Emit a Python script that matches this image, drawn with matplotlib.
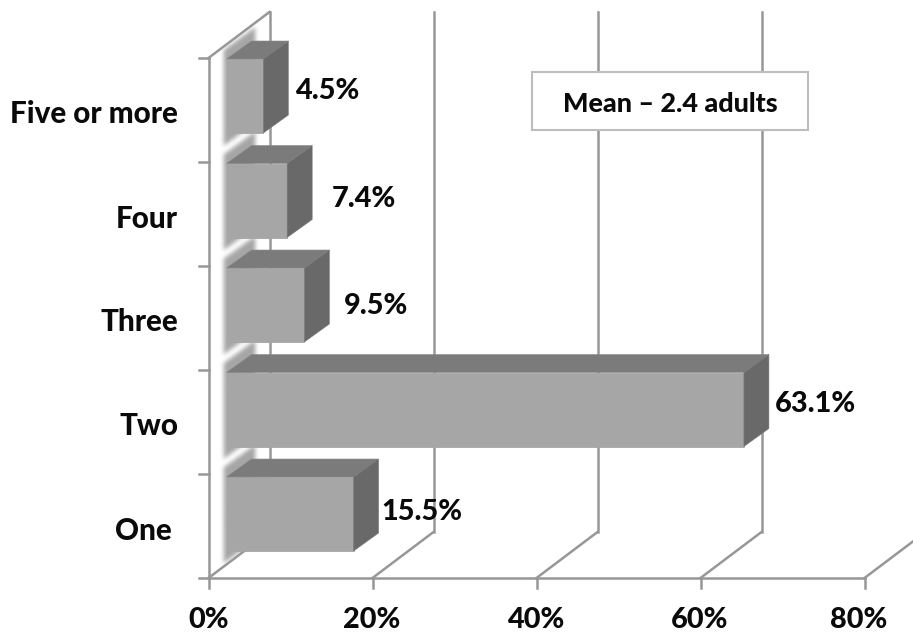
import matplotlib
matplotlib.use("Agg")
import matplotlib.pyplot as plt
from matplotlib.patches import Polygon
import numpy as np

plt.rcParams["font.family"] = ["Lato", "DejaVu Sans"]

CATEGORIES = ["One", "Two", "Three", "Four", "Five or more"]
VALUES = [15.5, 63.1, 9.5, 7.4, 4.5]
X_TICKS = [0, 20, 40, 60, 80]

W, H = 913, 635
PX_PER_PCT = 8.2    # horizontal pixels per percentage point
PX_PER_CAT = 104.0  # vertical pixels per category slot
ORIGIN = (208.5, 578)

# Depth of the box and of each bar, in data units
DEPTH_X, DEPTH_Y = 61 / PX_PER_PCT, 46 / PX_PER_CAT
BAR_DX, BAR_DY = 25 / PX_PER_PCT, 18 / PX_PER_CAT
FRONT_X, FRONT_Y = 18 / PX_PER_PCT, 13 / PX_PER_CAT
BAR_H = 74 / PX_PER_CAT
BAR_PITCH = 104.5 / PX_PER_CAT

GRID = "#979797"
FACE, TOP, SIDE = "#a6a6a6", "#7b7b7b", "#696969"
LW = 1.8


def fig_xy(px, py):
    return px / W, 1 - py / H


def box_blur(a, size, passes=2):
    kernel = np.ones(size) / size
    for _ in range(passes):
        a = np.apply_along_axis(lambda r: np.convolve(r, kernel, mode="same"), 0, a)
        a = np.apply_along_axis(lambda r: np.convolve(r, kernel, mode="same"), 1, a)
    return a


fig = plt.figure(figsize=(W / 100, H / 100), dpi=100, facecolor="white")
ax = fig.add_axes([0, 0, 1, 1])

n = len(CATEGORIES)
sx = 1 / PX_PER_PCT
sy = 1 / PX_PER_CAT

# Floor lines, back wall lines and the x axis
for t in X_TICKS:
    ax.plot([t, t + DEPTH_X], [0, DEPTH_Y], color=GRID, lw=LW, zorder=1)
    ax.plot([t + DEPTH_X] * 2, [DEPTH_Y, n + DEPTH_Y], color=GRID, lw=LW, zorder=1)
    ax.plot([t, t], [0, -10 * sy], color=GRID, lw=LW, zorder=1)
ax.plot([0, X_TICKS[-1]], [0, 0], color=GRID, lw=LW, zorder=1)

# Left wall with its category ticks
ax.plot([0, 0], [0, n], color=GRID, lw=LW, zorder=1)
ax.plot([0, DEPTH_X], [n, n + DEPTH_Y], color=GRID, lw=LW, zorder=1)
for k in range(n + 1):
    ax.plot([-10 * sx, 0], [k, k], color=GRID, lw=LW, zorder=1)

# Bar centres on the front plane
ys = [0.5 + FRONT_Y - 1 * sy + k * BAR_PITCH for k in range(n)]

# Blurred end caps of the bars, seen on the left wall
cap_x0, cap_x1 = FRONT_X - 4 * sx, FRONT_X + 28 * sx
grid_x = np.arange(cap_x0 - 20 * sx, cap_x1 + 20 * sx, sx)
grid_y = np.arange(-30 * sy, n + 90 * sy, sy)
gx, gy = np.meshgrid(grid_x, grid_y)
frac = (gx - cap_x0) / (cap_x1 - cap_x0)
mask = np.zeros_like(gx)
for y in ys:
    upper = y + BAR_H / 2 + 9 * sy + 23 * sy * frac
    lower = y - BAR_H / 2 - 13 * sy + 23 * sy * frac
    mask[(frac >= 0) & (frac <= 1) & (gy <= upper) & (gy >= lower)] = 1
alpha = box_blur(mask, 5)
rgba = np.zeros(gx.shape + (4,))
rgba[..., :3] = 166 / 255
rgba[..., 3] = alpha
ax.imshow(rgba, origin="lower", aspect="auto", interpolation="bilinear", zorder=2,
          extent=(grid_x[0], grid_x[-1], grid_y[0], grid_y[-1]))

# Bars: front face through barh, top and side faces as polygons
ax.barh(ys, VALUES, height=BAR_H, left=FRONT_X, color=FACE, edgecolor=FACE,
        linewidth=0.6, zorder=4)
for y, v in zip(ys, VALUES):
    x_l, x_r = FRONT_X, FRONT_X + v
    y_t, y_b = y + BAR_H / 2, y - BAR_H / 2
    ax.add_patch(Polygon([(x_l, y_t), (x_r, y_t), (x_r + BAR_DX, y_t + BAR_DY), (x_l + BAR_DX, y_t + BAR_DY)],
                         closed=True, facecolor=TOP, edgecolor="#8a8a8a", lw=0.4, zorder=4))
    ax.add_patch(Polygon([(x_r, y_t), (x_r + BAR_DX, y_t + BAR_DY), (x_r + BAR_DX, y_b + BAR_DY), (x_r, y_b)],
                         closed=True, facecolor=SIDE, edgecolor="#7a7a7a", lw=0.4, zorder=4))

ax.set_xlim(-ORIGIN[0] / PX_PER_PCT, (W - ORIGIN[0]) / PX_PER_PCT)
ax.set_ylim((ORIGIN[1] - H) / PX_PER_CAT, ORIGIN[1] / PX_PER_CAT)
ax.axis("off")

# Text
bold = dict(fontweight=900, color="#0a0a0a", zorder=6)
LABEL_POS = [(422, 512), (815, 404), (376, 306), (364, 199), (327, 91)]
for v, (px, py) in zip(VALUES, LABEL_POS):
    fx, fy = fig_xy(px, py)
    fig.text(fx, fy, f"{v}%", ha="center", va="center", fontsize=20.8, **bold)

CAT_POS = [(172, 531), (178, 426), (178, 322), (178, 219), (178, 114)]
for name, (px, py) in zip(CATEGORIES, CAT_POS):
    fx, fy = fig_xy(px, py)
    fig.text(fx, fy, name, ha="right", va="center", fontsize=21.3, **bold)

TICK_PX = [209, 372, 536, 700, 859]
for t, px in zip(X_TICKS, TICK_PX):
    fx, fy = fig_xy(px, 620)
    fig.text(fx, fy, f"{t}%", ha="center", va="center", fontsize=20.8, **bold)

# Mean box
fx0, fy0 = fig_xy(532, 130)
fx1, fy1 = fig_xy(808, 72)
box = plt.Rectangle((fx0, fy0), fx1 - fx0, fy1 - fy0, transform=fig.transFigure,
                    facecolor="white", edgecolor="#bdbdbd", lw=1.5, zorder=5)
ax.add_patch(box)
fx, fy = fig_xy(670, 104.5)
fig.text(fx, fy, "Mean – 2.4 adults", ha="center", va="center", fontsize=19.4, **bold)

fig.savefig("out.png", dpi=100)
